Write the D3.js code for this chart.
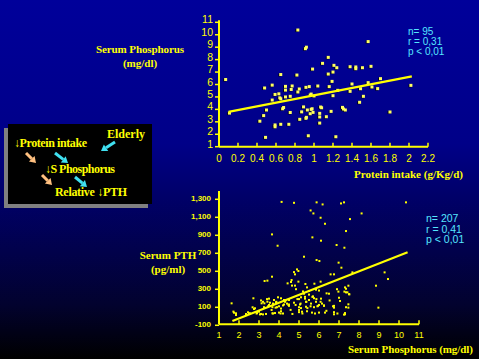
<!DOCTYPE html>
<html><head><meta charset="utf-8">
<script src="https://cdn.jsdelivr.net/npm/d3@7"></script>
<style>html,body{margin:0;padding:0;background:#000;}svg{display:block;}</style>
</head><body>
<script>
// ---------- DATA ----------
const topProtein = [0.07,0.11,0.43,0.47,0.48,0.49,0.50,0.56,0.56,0.59,0.59,0.59,0.63,0.65,0.65,0.65,0.67,0.68,0.70,0.70,0.70,0.735,0.75,0.77,0.76,0.75,0.82,0.83,0.83,0.845,0.85,0.87,0.89,0.91,0.92,0.915,0.915,0.93,0.94,0.95,0.96,0.97,0.98,0.99,0.985,1.00,1.04,1.06,1.06,1.06,1.07,1.09,1.13,1.15,1.15,1.16,1.18,1.19,1.20,1.20,1.21,1.24,1.23,1.25,1.30,1.31,1.33,1.38,1.38,1.40,1.44,1.44,1.48,1.49,1.51,1.52,1.57,1.57,1.60,1.61,1.67,1.70,1.80,2.02,0.64,0.96,0.92,0.97,1.08];
const topPhos    = [6.4,3.7,3.05,3.5,5.72,1.75,3.95,5.95,4.75,5.2,2.75,2.6,5.25,6.8,4.85,2.8,4.05,4.15,5.85,5.55,5.0,2.8,3.75,5.88,5.6,5.05,6.76,10.38,5.4,5.64,3.2,3.8,4.2,8.88,9.0,5.77,3.28,3.95,1.88,5.83,3.65,5.23,4.05,3.76,7.24,5.08,5.88,2.9,3.39,3.68,4.19,7.7,3.41,8.18,6.84,5.83,3.84,6.25,7.0,5.1,7.54,7.35,1.8,5.53,4.16,4.03,3.95,7.43,5.45,6.04,7.41,7.27,4.57,5.66,7.35,5.05,9.45,6.15,7.46,5.8,5.67,6.47,3.79,5.93,4.93,5.15,3.36,4.0,4.13];
const topFitX = [0.1, 2.03];
const topFitY = [3.8, 6.65];
const topXTicks = [0,0.2,0.4,0.6,0.8,1,1.2,1.4,1.6,1.8,2,2.2];
const topYTicks = [1,2,3,4,5,6,7,8,9,10,11];
const topStats = ["n= 95","r = 0,31","p < 0,01"];

const botPhos = [4.13,4.75,5.88,6.18,7.1,7.25,10.35,5.58,5.72,6.08,7.55,8.13,6.3,7.35,3.65,5.67,6.1,6.88,3.93,7.27,5.25,5.88,6.02,6.98,7.12,4.97,4.8,3.65,3.28,3.42,6.58,6.75,7.67,9.28,9.45,8.85,4.43,4.63,4.97,5.32,5.77,6.08,7.47,6.38,6.97,7.27,7.35,7.52,2.72,4.1,7.05,1.63,7.47,6.75,7.47,8.97,1.72,1.85,6.75,7.3,
 2.68,2.75,2.45,2.5,2.9,3.0,3.1,3.1,3.2,3.4,3.5,3.45,3.5,3.25,3.67,3.7,3.8,3.7,3.85,3.9,4.1,3.95,4.0,4.1,4.2,4.25,4.3,4.4,4.5,4.5,4.5,4.6,4.65,4.8,4.75,4.9,4.85,5.0,5.0,5.0,5.05,5.1,5.1,5.15,5.2,5.25,5.3,5.35,5.35,5.4,5.4,5.5,5.5,5.6,5.65,5.7,5.75,5.75,5.85,5.85,5.95,6.0,6.0,6.1,6.15,6.25,6.3,6.7,6.75,6.9,7.0,7.3,7.35,7.35,7.3,7.5,
 1.75,1.85,2.8,2.35,2.55,2.88,3.05,3.2,3.35,3.13,3.27,3.42,3.55,3.63,3.67,3.75,3.87,3.83,4.0,4.08,4.2,4.25,4.33,4.47,4.58,4.67,4.75,4.83,4.92,5.0,5.08,5.17,5.3,5.37,5.42,5.5,5.58,5.67,5.8,5.87,5.92,6.0,6.08,6.25,6.37,6.5,6.53,6.75,6.92,7.25,7.42];
const botPTH  = [1260,1250,1255,1232,1243,1255,1255,1165,1132,1084,1069,1132,1017,936,899,866,829,781,773,751,651,614,603,585,529,492,455,429,381,385,455,455,477,477,403,329,355,392,374,348,351,374,329,244,263,263,255,233,189,189,159,133,122,85,85,85,41,22,11,11,
 89,70,33,20,25,40,15,165,150,180,185,100,115,90,90,20,25,130,145,90,75,200,30,45,110,170,150,130,170,120,105,370,330,330,480,510,290,180,90,35,120,200,80,40,265,240,185,150,95,310,45,270,230,130,30,210,190,90,285,150,105,30,275,185,130,105,30,100,35,290,195,310,295,90,25,235,
 29,3,78,14,22,20,10,10,15,133,133,151,140,59,22,170,150,85,100,20,20,120,165,115,60,15,140,115,180,60,130,20,205,150,80,170,100,205,20,180,100,115,150,110,50,240,165,105,20,8,255];
const botFitX = [1.67, 10.43];
const botFitY = [-63, 700];
const botXTicks = [1,2,3,4,5,6,7,8,9,10,11];
const botYTicks = [-100,100,300,500,700,900,1100,1300];
const botStats = ["n= 207","r = 0,41","p < 0,01"];

// ---------- DRAW ----------
const W = 479, H = 359;
const YEL = "#ffff00", CY = "#55e6ff";
const svg = d3.select("body").append("svg").attr("width", W).attr("height", H);
const defs = svg.append("defs");
const grad = defs.append("linearGradient").attr("id","bg").attr("x1",0).attr("y1",0).attr("x2",0).attr("y2",1);
[[0,"#00009a"],[0.4,"#000088"],[0.55,"#000068"],[0.85,"#02022e"],[1,"#000000"]].forEach(s=>grad.append("stop").attr("offset",s[0]).attr("stop-color",s[1]));
svg.append("rect").attr("width",W).attr("height",H).attr("fill","url(#bg)");

const serif = "'Liberation Serif','Times New Roman',serif";
const sans = "'Liberation Sans',Arial,sans-serif";

// ---- top chart ----
const xT = d3.scaleLinear().domain([0,2.2]).range([219,428]);
const yT = d3.scaleLinear().domain([1,11]).range([146.7,22.3]);
const topG = svg.append("g");
const axT = topG.append("g").attr("stroke",YEL).attr("stroke-width",2);
axT.append("line").attr("x1",xT(0)).attr("x2",xT(2.2)).attr("y1",yT(1)).attr("y2",yT(1));
axT.append("line").attr("x1",xT(0)).attr("x2",xT(0)).attr("y1",yT(1)).attr("y2",yT(11)-2);
topG.selectAll(".ytk").data(topYTicks).join("line").attr("stroke",YEL).attr("stroke-width",1.5)
  .attr("x1",xT(0)-4).attr("x2",xT(0)).attr("y1",d=>yT(d)).attr("y2",d=>yT(d));
topG.selectAll(".xtk").data(topXTicks).join("line").attr("stroke",YEL).attr("stroke-width",1.5)
  .attr("x1",d=>xT(d)).attr("x2",d=>xT(d)).attr("y1",yT(1)).attr("y2",yT(1)-4);
topG.selectAll(".ytl").data(topYTicks).join("text").attr("x",xT(0)-6).attr("y",d=>yT(d)).attr("dy","0.1em")
  .attr("text-anchor","end").attr("fill",YEL).attr("font-family",sans).attr("font-size",10.5).text(d=>d);
topG.selectAll(".xtl").data(topXTicks).join("text").attr("x",d=>xT(d)).attr("y",162)
  .attr("text-anchor","middle").attr("fill",YEL).attr("font-family",sans).attr("font-size",10).text(d=>d);
const topPts = topProtein.map((x,i)=>[x,topPhos[i]]);
topG.selectAll(".psh").data(topPts).join("rect").attr("x",d=>xT(d[0])-2.5).attr("y",d=>yT(d[1])-1).attr("width",3).attr("height",3).attr("fill","#000020");
topG.selectAll(".pt").data(topPts).join("rect").attr("x",d=>xT(d[0])-1.5).attr("y",d=>yT(d[1])-1.5).attr("width",3).attr("height",3).attr("fill","#ffff60");
topG.append("line").attr("x1",xT(topFitX[0])).attr("y1",yT(topFitY[0])).attr("x2",xT(topFitX[1])).attr("y2",yT(topFitY[1]))
  .attr("stroke",YEL).attr("stroke-width",2.2);
topG.selectAll(".st").data(topStats).join("text").attr("x",408).attr("y",(d,i)=>35+i*10)
  .attr("fill",CY).attr("font-family",sans).attr("font-size",10).text(d=>d);
topG.append("text").attr("x",140).attr("y",53).attr("text-anchor","middle").attr("fill",YEL)
  .attr("font-family",serif).attr("font-weight","bold").attr("font-size",11).attr("textLength",88).text("Serum Phosphorus");
topG.append("text").attr("x",140).attr("y",67).attr("text-anchor","middle").attr("fill",YEL)
  .attr("font-family",serif).attr("font-weight","bold").attr("font-size",11).text("(mg/dl)");
topG.append("text").attr("x",354).attr("y",178).attr("fill",YEL)
  .attr("font-family",serif).attr("font-weight","bold").attr("font-size",11).attr("textLength",109).text("Protein intake (g/Kg/d)");

// ---- bottom chart ----
const xB = d3.scaleLinear().domain([1,11]).range([219,419]);
const yB = d3.scaleLinear().domain([-100,1300]).range([324.3,198.3]);
const botG = svg.append("g");
const axB = botG.append("g").attr("stroke",YEL).attr("stroke-width",2);
axB.append("line").attr("x1",xB(1)).attr("x2",xB(11)).attr("y1",yB(-100)).attr("y2",yB(-100));
axB.append("line").attr("x1",xB(1)).attr("x2",xB(1)).attr("y1",yB(-100)).attr("y2",yB(1380));
botG.selectAll(".ytk").data(botYTicks).join("line").attr("stroke",YEL).attr("stroke-width",1.5)
  .attr("x1",xB(1)-4).attr("x2",xB(1)).attr("y1",d=>yB(d)+1).attr("y2",d=>yB(d)+1);
botG.selectAll(".xtk").data(botXTicks).join("line").attr("stroke",YEL).attr("stroke-width",1.5)
  .attr("x1",d=>xB(d)).attr("x2",d=>xB(d)).attr("y1",yB(-100)).attr("y2",yB(-100)-4);
const fmt = d3.format(",");
botG.selectAll(".ytl").data(botYTicks).join("text").attr("x",xB(1)-8).attr("y",d=>yB(d)).attr("dy","0.35em")
  .attr("text-anchor","end").attr("fill",YEL).attr("font-family","'Liberation Sans Narrow','Arial Narrow',"+sans)
  .attr("font-weight","bold").attr("font-size",8).text(d=>fmt(d).replace("−","-"));
botG.selectAll(".xtl").data(botXTicks).join("text").attr("x",d=>xB(d)).attr("y",338)
  .attr("text-anchor","middle").attr("fill",YEL).attr("font-family",sans).attr("font-size",9).text(d=>d);
const botPts = botPhos.map((x,i)=>[x,botPTH[i]]);
botG.selectAll(".pt").data(botPts).join("rect").attr("x",d=>xB(d[0])-1).attr("y",d=>yB(d[1])-1).attr("width",2).attr("height",2).attr("fill",YEL);
botG.append("line").attr("x1",xB(botFitX[0])).attr("y1",yB(botFitY[0])).attr("x2",xB(botFitX[1])).attr("y2",yB(botFitY[1]))
  .attr("stroke",YEL).attr("stroke-width",2.2);
botG.selectAll(".st").data(botStats).join("text").attr("x",426).attr("y",(d,i)=>222+i*10.5)
  .attr("fill",CY).attr("font-family",sans).attr("font-size",10.5).text(d=>d);
botG.append("text").attr("x",168).attr("y",259).attr("text-anchor","middle").attr("fill",YEL)
  .attr("font-family",serif).attr("font-weight","bold").attr("font-size",11).text("Serum PTH");
botG.append("text").attr("x",168).attr("y",273).attr("text-anchor","middle").attr("fill",YEL)
  .attr("font-family",serif).attr("font-weight","bold").attr("font-size",11).text("(pg/ml)");
botG.append("text").attr("x",348).attr("y",353).attr("fill",YEL)
  .attr("font-family",serif).attr("font-weight","bold").attr("font-size",11).attr("textLength",125).text("Serum Phosphorus (mg/dl)");

// ---- left box ----
const box = svg.append("g");
box.append("rect").attr("x",4).attr("y",128).attr("width",144).attr("height",80).attr("fill","#808080");
box.append("rect").attr("x",8).attr("y",124).attr("width",144).attr("height",80).attr("fill","#000000");
const bt = [["↓Protein intake",14,146.5,73],["Elderly",107,138,38],["↓S Phosphorus",45,172.5,70],["Relative ↓PTH",55,196,72]];
box.selectAll(".bt").data(bt).join("text").attr("x",d=>d[1]).attr("y",d=>d[2]).attr("fill",YEL)
  .attr("font-family",serif).attr("font-weight","bold").attr("font-size",12).attr("textLength",d=>d[3]).text(d=>d[0]);
function arrow(x1,y1,x2,y2,col){
  const a = Math.atan2(y2-y1,x2-x1), L=6, Wd=4;
  const bx = x2-L*Math.cos(a), by = y2-L*Math.sin(a);
  box.append("line").attr("x1",x1).attr("y1",y1).attr("x2",bx).attr("y2",by).attr("stroke",col).attr("stroke-width",3);
  box.append("polygon").attr("fill",col).attr("points",[
    [x2,y2],[bx+Wd*Math.sin(a),by-Wd*Math.cos(a)],[bx-Wd*Math.sin(a),by+Wd*Math.cos(a)]].map(p=>p.join(",")).join(" "));
}
arrow(26,153,36,163,"#ffc080");
arrow(42,175,52,185,"#ffc080");
arrow(55,153,68,163,"#40e0f0");
arrow(75,177,87,187,"#40e0f0");
arrow(115,142,101,151,"#40e0f0");
</script>
</body></html>
